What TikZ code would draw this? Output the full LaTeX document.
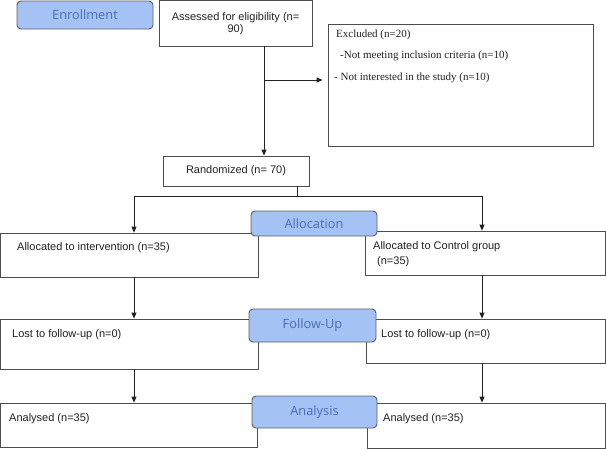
\documentclass[tikz,border=0pt]{standalone}
\usepackage{fontspec}
\setmainfont{Liberation Sans}
\newfontfamily\exclfont{Liberation Serif}
\newfontfamily\stagefont{Open Sans}
\usetikzlibrary{arrows.meta, positioning, calc}
\definecolor{ink}{HTML}{222222}
\definecolor{rule}{HTML}{4D4D4D}
\definecolor{stagefill}{HTML}{A4C2F4}
\definecolor{stagedraw}{HTML}{5A5F66}
\definecolor{stagetext}{HTML}{4A6CB3}
\tikzset{
  >={Triangle[length=6pt, width=5pt]},
  %
  box/.style={draw=rule, line width=0.8pt, fill=white, inner sep=0pt,
              align=center, text=ink, font=\fontsize{11}{12}\selectfont},
  stage/.style={draw=stagedraw, line width=0.9pt, fill=stagefill,
                rounded corners=4pt, inner sep=0pt, text=stagetext,
                font=\stagefont\fontsize{12.8}{14}\selectfont},
  %
  txt/.style={font=\fontsize{11}{12}\selectfont, text=ink, inner sep=0pt, anchor=west},
  txtserif/.style={txt, font=\exclfont\fontsize{11}{12}\selectfont},
  %
  flow/.style={draw=ink, line width=0.8pt, ->},
  link/.style={draw=ink, line width=0.8pt},
}
\begin{document}
\begin{tikzpicture}[x=1pt, y=-1pt]
\useasboundingbox (0,0) rectangle (606,450);

% --- enrollment ---
\node[box, minimum width=153pt, minimum height=45.5pt] (assess) at (235.5,23.25)
  {Assessed for eligibility (n=\\90)};
\node[box, minimum width=265pt, minimum height=122pt] (excl) at (460.5,85) {};
\node[txtserif] (excl-a) at (336,35) {Excluded (n=20)};
\node[txtserif] (excl-b) at (340,56) {-Not meeting inclusion criteria (n=10)};
\node[txtserif] (excl-c) at (334,78) {- Not interested in the study (n=10)};
\node[box, minimum width=146pt, minimum height=30pt] (rand) at (236,171) {Randomized (n= 70)};

\coordinate (colA) at (264,0);
\coordinate (split) at (264,80);
\draw[flow] (assess.south -| colA) -- (rand.north -| colA);
\draw[flow, shorten >=5pt] (split) -- (excl.west |- split);

% --- allocation ---
\node[box, minimum width=257.5pt, minimum height=44pt] (allocL) at (129.25,255) {};
\node[box, minimum width=240.5pt, minimum height=44pt] (allocR) at (485.25,253) {};
\node[txt] (allocL-t) at (17,248) {Allocated to intervention (n=35)};
\node[txt] (allocR-t) at (373,247) {Allocated to Control group};
\node[txt] (allocR-n) at (377,262) {(n=35)};

\coordinate (colC) at (297,196);
\coordinate (colL) at (134,196);
\coordinate (colR) at (482,196);
\draw[link] (rand.south -| colC) -- (colC);
\draw[link] (colL) -- (colR);
\draw[flow] (colL) -- (allocL.north -| colL);
\draw[flow] (colR) -- (allocR.north -| colR);

% --- follow-up ---
\node[box, minimum width=257.5pt, minimum height=50pt] (lostL) at (129.25,344) {};
\node[box, minimum width=239.5pt, minimum height=44pt] (lostR) at (485.75,341) {};
\node[txt] (lostL-t) at (12,335) {Lost to follow-up (n=0)};
\node[txt] (lostR-t) at (381,335) {Lost to follow-up (n=0)};
\draw[flow] (allocL.south -| colL) -- (lostL.north -| colL);
\draw[flow] (allocR.south -| colR) -- (lostR.north -| colR);

% --- analysis ---
\node[box, minimum width=256.5pt, minimum height=44pt] (anaL) at (128.75,425) {};
\node[box, minimum width=238.5pt, minimum height=45pt] (anaR) at (486.25,425.5) {};
\node[txt] (anaL-t) at (9,419) {Analysed (n=35)};
\node[txt] (anaR-t) at (383,419) {Analysed (n=35)};
\draw[flow] (lostL.south -| colL) -- (anaL.north -| colL);
\draw[flow] (lostR.south -| colR) -- (anaR.north -| colR);

% stage labels on top
\node[stage, minimum width=136pt, minimum height=28pt] (enroll) at (85,15) {Enrollment};
\node[stage, minimum width=126pt, minimum height=25pt] (allocation) at (314,223.5) {Allocation};
\node[stage, minimum width=127pt, minimum height=33pt] (followup) at (312.5,325.5) {Follow-Up};
\node[stage, minimum width=125pt, minimum height=32pt] (analysis) at (314.5,412) {Analysis};

\end{tikzpicture}
\end{document}
